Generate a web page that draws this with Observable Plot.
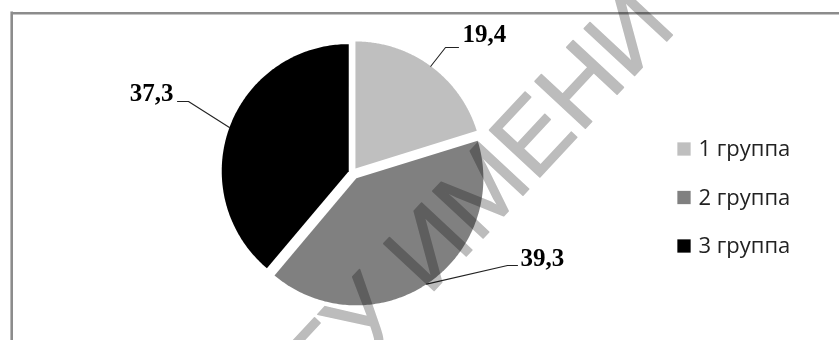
<!DOCTYPE html>
<html><head><meta charset="utf-8">
<script src="https://cdn.jsdelivr.net/npm/d3@7"></script>
<script src="https://cdn.jsdelivr.net/npm/@observablehq/plot@0.6"></script>
<style>html,body{margin:0;padding:0;background:#fff} svg{display:block}</style>
</head><body><div id="chart"></div>
<script>
// ---- data ----
const categories = ["1 группа", "2 группа", "3 группа"];
const values = [19.4, 39.3, 37.3];
const valueLabels = ["19,4", "39,3", "37,3"];
const colors = ["#bfbfbf", "#808080", "#000000"];
const watermarkBefore = "РЕПОЗИТОРИЙ ГГУ ";
const watermarkAfter = "ИМЕНИ Ф. СКОРИНЫ";

// ---- layout ----
const W = 839, H = 340;
const cx = 352, cy = 172, R = 127;
const explode = [5, 7, 4];
const leaderLayout = [
  {ex: 445, ey: 47, hx: 458, tx: 462, ty: 41, anchor: "start"},
  {ex: 507, ey: 265, hx: 517, tx: 520, ty: 265, anchor: "start"},
  {ex: 188, ey: 101, hx: 177, tx: 173, ty: 100, anchor: "end"}
];

const arcs = d3.pie().sort(null).value(d => d)(values);

const slicePts = [];
const leaders = [];
const labelRows = [];
arcs.forEach((a, i) => {
  const mid = (a.startAngle + a.endAngle) / 2;
  const ox = cx + explode[i] * Math.sin(mid), oy = cy - explode[i] * Math.cos(mid);
  const cat = categories[i];
  slicePts.push({cat, x: ox, y: oy});
  const n = 160;
  for (let k = 0; k <= n; k++) {
    const t = a.startAngle + (a.endAngle - a.startAngle) * k / n;
    slicePts.push({cat, x: ox + R * Math.sin(t), y: oy - R * Math.cos(t)});
  }
  slicePts.push({cat, x: ox, y: oy});
  const L = leaderLayout[i];
  const sx = ox + R * Math.sin(mid), sy = oy - R * Math.cos(mid);
  leaders.push({cat, x: sx, y: sy}, {cat, x: L.ex, y: L.ey}, {cat, x: L.hx, y: L.ey});
  labelRows.push({label: valueLabels[i], x: L.tx, y: L.ty, anchor: L.anchor});
});

const legendRows = categories.map((c, i) => ({cat: c, color: colors[i], i}));
const legendX = 683.5, legendY0 = 148.5, legendStep = 48.5;
const wmX = 428, wmY = 296, wmSize = 100, wmAngle = -47;

const chart = Plot.plot({
  width: W, height: H,
  margin: 0,
  x: {domain: [0, W], range: [0, W], axis: null},
  y: {domain: [0, H], range: [0, H], axis: null},
  style: {background: "#fff"},
  marks: [
    Plot.ruleY([12.8], {x1: 11.2, x2: W + 5, stroke: "#8c8c8c", strokeWidth: 2.6}),
    Plot.ruleX([11.2], {y1: 11.5, y2: H + 5, stroke: "#8c8c8c", strokeWidth: 2.6}),
    ...categories.map((c, i) => Plot.line(slicePts.filter(d => d.cat === c), {
      x: "x", y: "y", fill: colors[i], stroke: "none", curve: "linear"
    })),
    Plot.line(leaders, {x: "x", y: "y", z: "cat", stroke: "#222", strokeWidth: 1.1, curve: "linear"}),
    Plot.text(labelRows.filter(d => d.anchor === "start"), {
      x: "x", y: "y", text: "label", textAnchor: "start", lineAnchor: "bottom",
      fontFamily: "Liberation Serif", fontWeight: "bold", fontSize: 25, fill: "#000"
    }),
    Plot.text(labelRows.filter(d => d.anchor === "end"), {
      x: "x", y: "y", text: "label", textAnchor: "end", lineAnchor: "bottom",
      fontFamily: "Liberation Serif", fontWeight: "bold", fontSize: 25, fill: "#000"
    }),
    Plot.dot(legendRows, {
      x: () => legendX, y: d => legendY0 + d.i * legendStep,
      symbol: "square", r: 7.5, fill: "color", stroke: "none"
    }),
    Plot.text(legendRows, {
      x: () => legendX + 14.5, y: d => legendY0 + d.i * legendStep, text: "cat",
      textAnchor: "start", lineAnchor: "middle",
      fontFamily: "Open Sans", fontSize: 22, fill: "#222"
    }),
    Plot.text([watermarkBefore], {
      x: () => wmX, y: () => wmY, text: d => d, rotate: wmAngle, textAnchor: "end", lineAnchor: "bottom",
      fontFamily: "Liberation Sans", fontSize: wmSize, fill: "#bcbcbc", stroke: "#bcbcbc", strokeWidth: 1.5,
      mixBlendMode: "multiply"
    }),
    Plot.text([watermarkAfter], {
      x: () => wmX, y: () => wmY, text: d => d, rotate: wmAngle, textAnchor: "start", lineAnchor: "bottom",
      fontFamily: "Liberation Sans", fontSize: wmSize, fill: "#bcbcbc", stroke: "#bcbcbc", strokeWidth: 1.5,
      mixBlendMode: "multiply"
    })
  ]
});
document.getElementById("chart").appendChild(chart);
</script>
</body></html>
